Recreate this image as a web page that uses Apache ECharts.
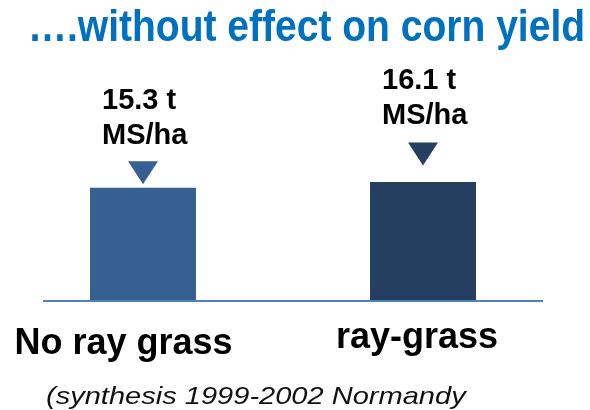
<!DOCTYPE html>
<html>
<head>
<meta charset="utf-8">
<script src="https://cdn.jsdelivr.net/npm/echarts@6/dist/echarts.min.js"></script>
<style>
html, body { margin: 0; padding: 0; background: #fff; }
#main { width: 590px; height: 410px; }
</style>
</head>
<body>
<div id="main"></div>
<script>
var categories = ['No ray grass', 'ray-grass'];
var yieldValues = [15.3, 16.1];
var yieldLabels = ['15.3 t', '16.1 t'];
var unitLabel = 'MS/ha';
var barColors = ['#376092', '#243F60'];

// offsets of labels / triangles above each bar (as in the slide)
var triOffset = [15, 28];
var labelDist = [34, 48];

var myChart = echarts.init(document.getElementById('main'));

var barData = yieldValues.map(function (v, i) {
	return {
		value: v,
		itemStyle: { color: barColors[i] },
		label: { distance: labelDist[i] }
	};
});

var arrowData = yieldValues.map(function (v, i) {
	return {
		coord: [i, v],
		symbol: 'triangle',
		symbolRotate: 180,
		symbolSize: [30, 23],
		symbolOffset: [0, -triOffset[i]],
		itemStyle: { color: barColors[i] }
	};
});

var option = {
	animation: false,
	grid: { left: 3, width: 560, top: 80, bottom: 110 },
	xAxis: {
		type: 'category',
		data: categories,
		axisLine: { show: false },
		axisTick: { show: false },
		axisLabel: {
			margin: 20,
			formatter: function (val, idx) {
				return idx === 0 ? '{a|' + val + '}' : '{b|' + val + '}';
			},
			rich: {
				a: {
					fontFamily: 'Liberation Sans', fontWeight: 'bold', fontSize: 36,
					color: '#000', padding: [6, 39, 0, 0]
				},
				b: {
					fontFamily: 'Liberation Sans', fontWeight: 'bold', fontSize: 36,
					color: '#000', padding: [0, 12, 0, 0]
				}
			}
		}
	},
	yAxis: {
		type: 'value',
		min: 0,
		max: 30,
		show: false
	},
	graphic: [
		{
			// slide title, condensed like the original
			type: 'text',
			x: 28,
			y: 6,
			scaleX: 0.867,
			style: {
				text: '\u2026.without effect on corn yield',
				font: 'bold 45px "Liberation Sans", Arial, sans-serif',
				fill: '#0070C0',
				verticalAlign: 'top'
			}
		},
		{
			type: 'text',
			x: 46,
			y: 385,
			scaleX: 1.21,
			style: {
				text: '(synthesis 1999-2002 Normandy',
				font: 'italic 24px "Liberation Sans", Arial, sans-serif',
				fill: '#111',
				verticalAlign: 'top'
			}
		},
		{
			type: 'line',
			shape: { x1: 43, y1: 301, x2: 543, y2: 301 },
			style: { stroke: '#4F81BD', lineWidth: 2 },
			z: 10
		}
	],
	series: [
		{
			type: 'bar',
			data: barData,
			barWidth: 106,
			label: {
				show: true,
				position: 'top',
				formatter: function (p) {
					return '{t|' + yieldLabels[p.dataIndex] + '}\n{t|' + unitLabel + '}';
				},
				rich: {
					t: {
						width: 86,
						align: 'left',
						padding: [0, 0, 0, 4],
						fontFamily: 'Liberation Sans',
						fontWeight: 'bold',
						fontSize: 29,
						lineHeight: 35,
						color: '#000'
					}
				}
			},
			markPoint: {
				label: { show: false },
				data: arrowData
			}
		}
	]
};

myChart.setOption(option);
</script>
</body>
</html>
